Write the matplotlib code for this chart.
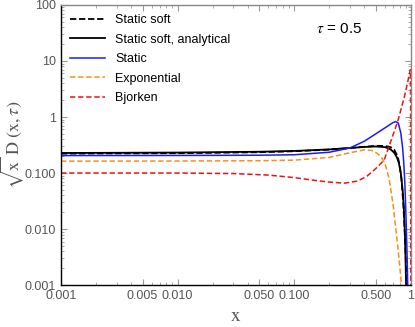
import matplotlib
matplotlib.use("Agg")
import matplotlib.pyplot as plt
import numpy as np

plt.rcParams['font.family'] = ['Liberation Sans', 'DejaVu Sans']
plt.rcParams['mathtext.fontset'] = 'stix'

# Static soft (numerical, dashed black)
x_ss = [0.001, 0.01, 0.05, 0.1, 0.2, 0.3, 0.4, 0.5, 0.6, 0.67, 0.72, 0.77, 0.8, 0.83, 0.86, 0.88, 0.9, 0.91, 0.92]
y_ss = [0.222, 0.226, 0.235, 0.245, 0.262, 0.28, 0.295, 0.305, 0.305, 0.29, 0.26, 0.2, 0.14, 0.08, 0.03, 0.012, 0.004, 0.002, 0.001]

# Static soft, analytical (solid black)
x_sa = [0.001, 0.01, 0.05, 0.1, 0.2, 0.3, 0.4, 0.5, 0.6, 0.67, 0.72, 0.76, 0.79, 0.82, 0.85, 0.87, 0.89, 0.9, 0.91]
y_sa = [0.228, 0.232, 0.24, 0.248, 0.264, 0.28, 0.292, 0.298, 0.29, 0.265, 0.23, 0.19, 0.15, 0.1, 0.05, 0.025, 0.008, 0.003, 0.001]

# Static (blue)
x_st = [0.001, 0.01, 0.05, 0.1, 0.2, 0.3, 0.4, 0.5, 0.6, 0.7, 0.74, 0.78, 0.82, 0.85, 0.87, 0.89, 0.91, 0.93, 0.94]
y_st = [0.205, 0.206, 0.208, 0.212, 0.235, 0.28, 0.37, 0.5, 0.64, 0.79, 0.83, 0.78, 0.52, 0.28, 0.15, 0.06, 0.015, 0.003, 0.001]

# Exponential (orange dashed)
x_ex = [0.001, 0.01, 0.05, 0.1, 0.2, 0.3, 0.4, 0.48, 0.55, 0.6, 0.65, 0.7, 0.74, 0.78, 0.81, 0.83]
y_ex = [0.163, 0.164, 0.166, 0.17, 0.19, 0.23, 0.26, 0.25, 0.2, 0.15, 0.08, 0.03, 0.011, 0.004, 0.0018, 0.001]

# Bjorken (red dashed)
x_bj = [0.001, 0.005, 0.01, 0.03, 0.06, 0.1, 0.15, 0.2, 0.27, 0.35, 0.42, 0.5, 0.59, 0.65, 0.72, 0.78, 0.84, 0.88, 0.93, 0.97, 0.99, 0.995, 0.997, 0.998]
y_bj = [0.1, 0.1, 0.1, 0.098, 0.092, 0.083, 0.074, 0.069, 0.066, 0.072, 0.088, 0.12, 0.17, 0.3, 0.55, 0.9, 1.6, 2.3, 3.8, 5.8, 7.0, 2.0, 0.01, 0.001]

labels = ["Static soft", "Static soft, analytical", "Static", "Exponential", "Bjorken"]

fig = plt.figure(figsize=(4.15, 3.27), dpi=100)
ax = fig.add_axes([0.147, 0.128, 0.843, 0.857])

ax.plot(x_ss, y_ss, color='black', ls=(0, (3.5, 1.5)), lw=1.3, label=labels[0])
ax.plot(x_sa, y_sa, color='black', ls='-', lw=1.3, label=labels[1])
ax.plot(x_st, y_st, color='#1a1aff', ls='-', lw=1.1, label=labels[2])
ax.plot(x_ex, y_ex, color='#ff8c1a', ls=(0, (3.5, 1.8)), lw=1.1, label=labels[3])
ax.plot(x_bj, y_bj, color='#ee1111', ls=(0, (3.5, 1.8)), lw=1.1, label=labels[4])

ax.set_xscale('log')
ax.set_yscale('log')
ax.set_xlim(0.001, 1.0)
ax.set_ylim(0.001, 100)

xt = [0.001, 0.005, 0.01, 0.05, 0.1, 0.5, 1]
xtl = ['0.001', '0.005', '0.010', '0.050', '0.100', '0.500', '1']
yt = [0.001, 0.01, 0.1, 1, 10, 100]
ytl = ['0.001', '0.010', '0.100', '1', '10', '100']
ax.set_xticks(xt)
ax.set_xticklabels(xtl)
ax.set_yticks(yt)
ax.set_yticklabels(ytl)

gray = '#555555'
ax.tick_params(which='both', direction='in', top=True, right=True, colors='#999999', labelcolor=gray, labelsize=9)
ax.tick_params(which='major', length=4)
ax.tick_params(which='minor', length=2)
for s in ['left', 'bottom']:
    ax.spines[s].set_color('black')
    ax.spines[s].set_linewidth(1.0)
for s in ['top', 'right']:
    ax.spines[s].set_color('#888888')
    ax.spines[s].set_linewidth(1.0)

ax.set_xlabel(r'$\mathrm{x}$', fontsize=14, color=gray, labelpad=4)
ax.set_ylabel(r'$\sqrt{\mathrm{x}}\ \mathrm{D}\ (\mathrm{x},\tau)$', fontsize=13, color=gray, labelpad=-1)

ax.text(0.73, 0.915, r'$\tau$ = 0.5', transform=ax.transAxes, fontsize=11, color='black', ha='left', va='center')

leg = ax.legend(loc='upper left', frameon=False, fontsize=9, handlelength=2.8, labelspacing=0.6,
                borderaxespad=0.35, handletextpad=0.8)

fig.savefig('out.png', dpi=100)
